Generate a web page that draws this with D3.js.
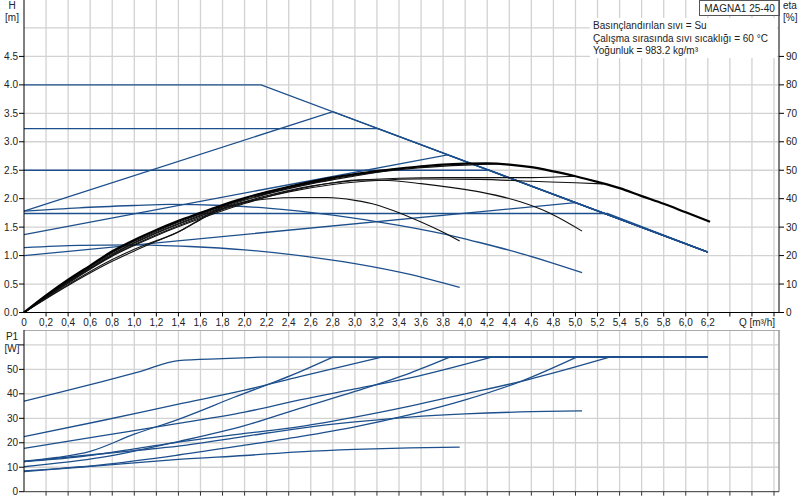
<!DOCTYPE html>
<html><head><meta charset="utf-8">
<script src="https://cdn.jsdelivr.net/npm/d3@7"></script>
<style>
html,body{margin:0;padding:0;background:#fff;}
svg text{font-family:"Liberation Sans",Arial,sans-serif;font-size:10px;fill:#222;}
</style></head>
<body>
<svg id="chart" width="803" height="500"></svg>
<script>
// ---------- DATA ----------
const qTicks = [0,0.2,0.4,0.6,0.8,1.0,1.2,1.4,1.6,1.8,2.0,2.2,2.4,2.6,2.8,3.0,3.2,3.4,3.6,3.8,4.0,4.2,4.4,4.6,4.8,5.0,5.2,5.4,5.6,5.8,6.0,6.2];
const qGrid = [0.2,0.4,0.6,0.8,1.0,1.2,1.4,1.6,1.8,2.0,2.2,2.4,2.6,2.8,3.0,3.2,3.4,3.6,3.8,4.0,4.2,4.4,4.6,4.8,5.0,5.2,5.4,5.6,5.8,6.0,6.2,6.4,6.6,6.8];
const hTicks = [0,0.5,1.0,1.5,2.0,2.5,3.0,3.5,4.0,4.5];
const hGrid = [0.5,1.0,1.5,2.0,2.5,3.0,3.5,4.0,4.5,5.0];
const etaTicks = [0,10,20,30,40,50,60,70,80,90];
const pTicks = [0,10,20,30,40,50];
const pGrid = [10,20,30,40,50,60];

const title = "MAGNA1 25-40";
const infoLines = ["Basınçlandırılan sıvı = Su","Çalışma sırasında sıvı sıcaklığı = 60 °C","Yoğunluk = 983.2 kg/m³"];

// Head curves [Q, H] (straight segments)
const headConst40   = [[0,4.0],[2.15,4.0],[6.2,1.06]];
const headConst323  = [[0,3.23],[3.21,3.23],[6.2,1.06]];
const headProp178   = [[0,1.78],[2.8,3.53],[6.2,1.06]];
const headConst25   = [[0,2.5],[4.22,2.5],[6.2,1.06]];
const headProp137   = [[0,1.37],[3.84,2.77],[6.2,1.06]];
const headConst174  = [[0,1.74],[5.29,1.74],[6.2,1.06]];
const headProp100   = [[0,1.0],[5.0,1.93],[6.2,1.06]];
// Head curves [Q, H] (fixed speed, smooth)
const headFixedHigh = [[0,1.78],[0.5,1.84],[1.0,1.88],[1.32,1.90],[1.8,1.88],[2.23,1.83],[2.8,1.71],[3.4,1.53],[3.92,1.33],[4.13,1.23],[4.5,1.04],[5.06,0.70]];
const headFixedLow  = [[0,1.14],[0.5,1.18],[1.0,1.19],[1.5,1.16],[2.0,1.10],[2.5,1.0],[3.0,0.86],[3.5,0.67],[3.95,0.44]];

// Efficiency curves [Q, eta %]
const etaMax   = [[0,0],[0.2,6],[0.4,11.5],[0.6,16.5],[0.8,21.5],[1.0,25.5],[1.2,29],[1.4,32.2],[1.6,35],[1.8,37.8],[2.0,40.2],[2.2,42.3],[2.4,44.2],[2.6,45.9],[2.8,47.4],[3.0,48.6],[3.2,49.7],[3.4,50.6],[3.6,51.4],[3.8,52],[4.0,52.3],[4.2,52.4],[4.4,52],[4.6,51.1],[4.8,49.6],[5.0,47.9],[5.2,45.9],[5.4,43.7],[5.6,40.9],[5.8,38.2],[6.0,35.2],[6.22,31.9]];
const etaB     = [[0,0],[0.2,5.7],[0.4,11.2],[0.6,16.2],[0.8,21],[1.0,25],[1.2,28.5],[1.4,31.7],[1.6,34.6],[1.8,37.3],[2.0,39.7],[2.4,43.8],[2.8,47],[3.2,49.3],[3.6,50.9],[4.0,51.8],[4.3,52.2]];
const etaC     = [[0,0],[0.2,5.5],[0.4,10.9],[0.6,15.9],[0.8,20.6],[1.0,24.6],[1.4,31.3],[1.8,37],[2.2,41.6],[2.6,45.2],[3.0,48],[3.3,49.9]];
const etaD     = [[0,0],[0.2,5.4],[0.4,10.7],[0.6,15.6],[0.8,20.3],[1.0,24.3],[1.4,31],[1.8,36.6],[2.2,41],[2.6,44.4],[3.0,46.4],[3.4,47.2],[3.8,47.4],[4.2,47.4],[4.6,47.4],[5.0,47.9]];
const etaE     = [[0,0],[0.2,5.3],[0.4,10.5],[0.8,20],[1.2,27.3],[1.6,33.5],[2.0,38.6],[2.4,42.4],[2.8,45],[3.2,46.4],[3.6,46.9],[4.13,46.8],[4.6,46.1],[5.0,45.6],[5.25,45.2]];
const etaF     = [[0,0],[0.2,5.2],[0.4,10.3],[0.8,19.8],[1.2,27],[1.6,33],[2.0,38.3],[2.4,42.6],[2.8,45.6],[3.05,46.6],[3.3,46.4],[3.6,45.3],[3.9,43.8],[4.13,42.4],[4.5,38.9],[4.74,35.4],[5.06,28.6]];
const etaG     = [[0,0],[0.4,9.5],[0.8,18],[1.0,21.6],[1.2,25],[1.4,28.3],[1.6,32.6],[1.8,36.5],[2.0,38.8],[2.2,39.9],[2.5,40.4],[2.75,40.4],[3.0,39.4],[3.2,37.8],[3.41,34.9],[3.6,31.8],[3.8,28.2],[3.95,25.1]];
const etaH     = [[0,0],[0.4,9.8],[0.8,18.6],[1.0,22.2],[1.4,28.4],[1.8,37.2],[2.1,41.4],[2.4,44],[2.8,46.8]];

// Power curves [Q, P1 W]
const powConst40  = [[0,37],[0.35,40.9],[0.7,44.9],[1.05,49.1],[1.4,53.6],[1.8,54.4],[2.15,55],[6.2,55]];
const powConst323 = [[0,22.5],[0.7,29],[1.4,35.8],[2.0,41.5],[2.5,47],[3.24,55],[6.2,55]];
const powProp178  = [[0,12.5],[0.3,14],[0.6,16.5],[1.0,23.5],[1.4,29.6],[1.9,38.5],[2.5,49],[2.8,55],[6.2,55]];
const powConst25  = [[0,17.7],[0.7,22.8],[1.4,27.9],[2.0,32.5],[2.5,37.5],[3.0,42],[3.5,46.5],[4.24,55],[6.2,55]];
const powProp137  = [[0,10.2],[0.7,14],[1.4,20.5],[2.0,27],[2.5,34.1],[3.0,41],[3.5,48.5],[3.86,55],[6.2,55]];
const powConst174 = [[0,12.3],[0.5,14.2],[1.0,17.5],[1.4,20.3],[2.0,23.8],[2.5,26.6],[3.0,30.5],[3.5,35],[4.0,40],[4.5,45],[5.0,51],[5.31,55],[6.2,55]];
const powProp100  = [[0,8.5],[0.7,11],[1.4,15],[2.0,19],[2.5,22.5],[3.0,26.5],[3.5,31.5],[4.0,37.5],[4.5,45],[5.01,55],[6.2,55]];
const powFixedHigh= [[0,12.3],[0.5,14.6],[1.0,16.8],[1.4,18.6],[2.0,22.6],[2.5,25.9],[3.0,28.5],[3.5,30.5],[4.0,31.8],[4.5,32.6],[5.06,33]];
const powFixedLow = [[0,8.2],[0.5,10],[1.0,11.8],[1.4,13.2],[2.0,14.8],[2.5,16.3],[3.0,17.3],[3.5,17.9],[3.95,18.2]];

// ---------- DRAW ----------
const svg = d3.select("#chart");
const BLUE = "#1d4f8c", GRID = "#d2d2d2";
const x = d3.scaleLinear().domain([0,6.8]).range([24,774]);
const xRight = 779;
const yH = d3.scaleLinear().domain([0,5.5]).range([312.5,-0.5]);
const yEta = d3.scaleLinear().domain([0,110]).range([312.5,-0.5]);
const yP = d3.scaleLinear().domain([0,60]).range([491.7,344.9]);
const botTop = 330;

const fmtComma = d => d===0 ? "0" : d3.format(".1f")(d).replace(".",",");

// grid top
const g = svg.append("g");
g.selectAll(".vgt").data(qGrid).join("line")
  .attr("x1",d=>x(d)).attr("x2",d=>x(d)).attr("y1",0).attr("y2",yH(0))
  .attr("stroke",GRID).attr("stroke-width",1.3);
g.selectAll(".hgt").data(hGrid).join("line")
  .attr("x1",x(0)).attr("x2",xRight).attr("y1",d=>yH(d)).attr("y2",d=>yH(d))
  .attr("stroke",GRID).attr("stroke-width",1.3);
// grid bottom
g.selectAll(".vgb").data(qGrid).join("line")
  .attr("x1",d=>x(d)).attr("x2",d=>x(d)).attr("y1",botTop).attr("y2",yP(0))
  .attr("stroke",GRID).attr("stroke-width",1.3);
g.selectAll(".hgb").data(pGrid).join("line")
  .attr("x1",x(0)).attr("x2",xRight).attr("y1",d=>yP(d)).attr("y2",d=>yP(d))
  .attr("stroke",GRID).attr("stroke-width",1.3);
// bottom panel frame
g.append("line").attr("x1",x(0)).attr("x2",xRight).attr("y1",botTop+0.5).attr("y2",botTop+0.5).attr("stroke","#aaa");
g.append("line").attr("x1",xRight).attr("x2",xRight).attr("y1",botTop).attr("y2",yP(0)).attr("stroke","#999").attr("stroke-width",1.5);

// info box
const info = svg.append("g");
info.append("rect").attr("x",590).attr("y",18).attr("width",187).attr("height",40).attr("fill","#fff");
info.selectAll("text").data(infoLines).join("text")
  .attr("x",593).attr("y",(d,i)=>29+i*12.5).text(d=>d);
// title box
svg.append("rect").attr("x",699.5).attr("y",0.5).attr("width",80).attr("height",15).attr("fill","#fff").attr("stroke","#555");
svg.append("text").attr("x",739.5).attr("y",12).attr("text-anchor","middle").text(title);

// lines
const lineLin = sc => d3.line().x(d=>x(d[0])).y(d=>sc(d[1])).curve(d3.curveLinear);
const lineSm = sc => d3.line().x(d=>x(d[0])).y(d=>sc(d[1])).curve(d3.curveMonotoneX);
const curves = svg.append("g").attr("fill","none");

// power curves: smooth rise, straight flat tail at the power limit
function drawPower(s){
  const last = s[s.length-1][1];
  let k = s.findIndex(d=>d[1]===last);
  if (k < 0 || k === s.length-1) k = s.length-1;
  curves.append("path").attr("d",lineSm(yP)(s.slice(0,k+1))).attr("stroke",BLUE).attr("stroke-width",1.3);
  if (k < s.length-1) curves.append("path").attr("d",lineLin(yP)(s.slice(k))).attr("stroke",BLUE).attr("stroke-width",1.3);
}
[powConst40,powConst323,powProp178,powConst25,powProp137,powConst174,powProp100,powFixedHigh,powFixedLow].forEach(drawPower);

[headConst40,headConst323,headProp178,headConst25,headProp137,headConst174,headProp100].forEach(s=>{
  curves.append("path").attr("d",lineLin(yH)(s)).attr("stroke",BLUE).attr("stroke-width",1.3);
});
[headFixedHigh,headFixedLow].forEach(s=>{
  curves.append("path").attr("d",lineSm(yH)(s)).attr("stroke",BLUE).attr("stroke-width",1.3);
});
[etaB,etaC,etaD,etaE,etaF,etaG,etaH].forEach(s=>{
  curves.append("path").attr("d",lineSm(yEta)(s)).attr("stroke","#111").attr("stroke-width",1.1);
});
curves.append("path").attr("d",lineSm(yEta)(etaMax)).attr("stroke","#000").attr("stroke-width",2.2);

// axes top
const ax = svg.append("g");
ax.append("line").attr("x1",24).attr("x2",24).attr("y1",0).attr("y2",yH(0)).attr("stroke","#000");
ax.selectAll(".lt").data(hTicks).join("line").attr("x1",19).attr("x2",24).attr("y1",d=>yH(d)).attr("y2",d=>yH(d)).attr("stroke","#000");
ax.selectAll(".ll").data(hTicks).join("text").attr("x",18).attr("y",d=>yH(d)+3.5).attr("text-anchor","end").text(d=>d3.format(".1f")(d));
ax.append("text").attr("x",12).attr("y",9).attr("text-anchor","middle").text("H");
ax.append("text").attr("x",12).attr("y",21).attr("text-anchor","middle").text("[m]");
ax.append("line").attr("x1",xRight).attr("x2",xRight).attr("y1",0).attr("y2",yEta(0)).attr("stroke","#555").attr("stroke-width",1.5);
ax.selectAll(".rt").data(etaTicks).join("line").attr("x1",xRight).attr("x2",xRight+5).attr("y1",d=>yEta(d)).attr("y2",d=>yEta(d)).attr("stroke","#000");
ax.selectAll(".rl").data(etaTicks).join("text").attr("x",786).attr("y",d=>yEta(d)+3.5).text(d=>d);
ax.append("text").attr("x",783).attr("y",9).text("eta");
ax.append("text").attr("x",783).attr("y",21).text("[%]");
ax.append("line").attr("x1",24).attr("x2",xRight).attr("y1",yH(0)).attr("y2",yH(0)).attr("stroke","#000");
ax.selectAll(".bt").data(qGrid).join("line").attr("x1",d=>x(d)).attr("x2",d=>x(d)).attr("y1",yH(0)).attr("y2",yH(0)+4).attr("stroke","#000");
ax.selectAll(".bl").data(qTicks).join("text").attr("x",d=>x(d)).attr("y",326).attr("text-anchor","middle").text(fmtComma);
ax.append("text").attr("x",775).attr("y",326).attr("text-anchor","end").text("Q [m³/h]");

// bottom panel axes
ax.append("line").attr("x1",24).attr("x2",24).attr("y1",botTop).attr("y2",yP(0)).attr("stroke","#000");
ax.selectAll(".plt").data(pGrid.concat([0])).join("line").attr("x1",19).attr("x2",24).attr("y1",d=>yP(d)).attr("y2",d=>yP(d)).attr("stroke","#000");
ax.selectAll(".pll").data(pTicks).join("text").attr("x",18).attr("y",d=>yP(d)+3.5).attr("text-anchor","end").text(d=>d);
ax.append("text").attr("x",12).attr("y",340).attr("text-anchor","middle").text("P1");
ax.append("text").attr("x",12).attr("y",352).attr("text-anchor","middle").text("[W]");
ax.append("line").attr("x1",24).attr("x2",xRight).attr("y1",yP(0)).attr("y2",yP(0)).attr("stroke","#333");
ax.selectAll(".pbt").data(qGrid).join("line").attr("x1",d=>x(d)).attr("x2",d=>x(d)).attr("y1",yP(0)).attr("y2",yP(0)+4).attr("stroke","#333");
</script>
</body></html>
